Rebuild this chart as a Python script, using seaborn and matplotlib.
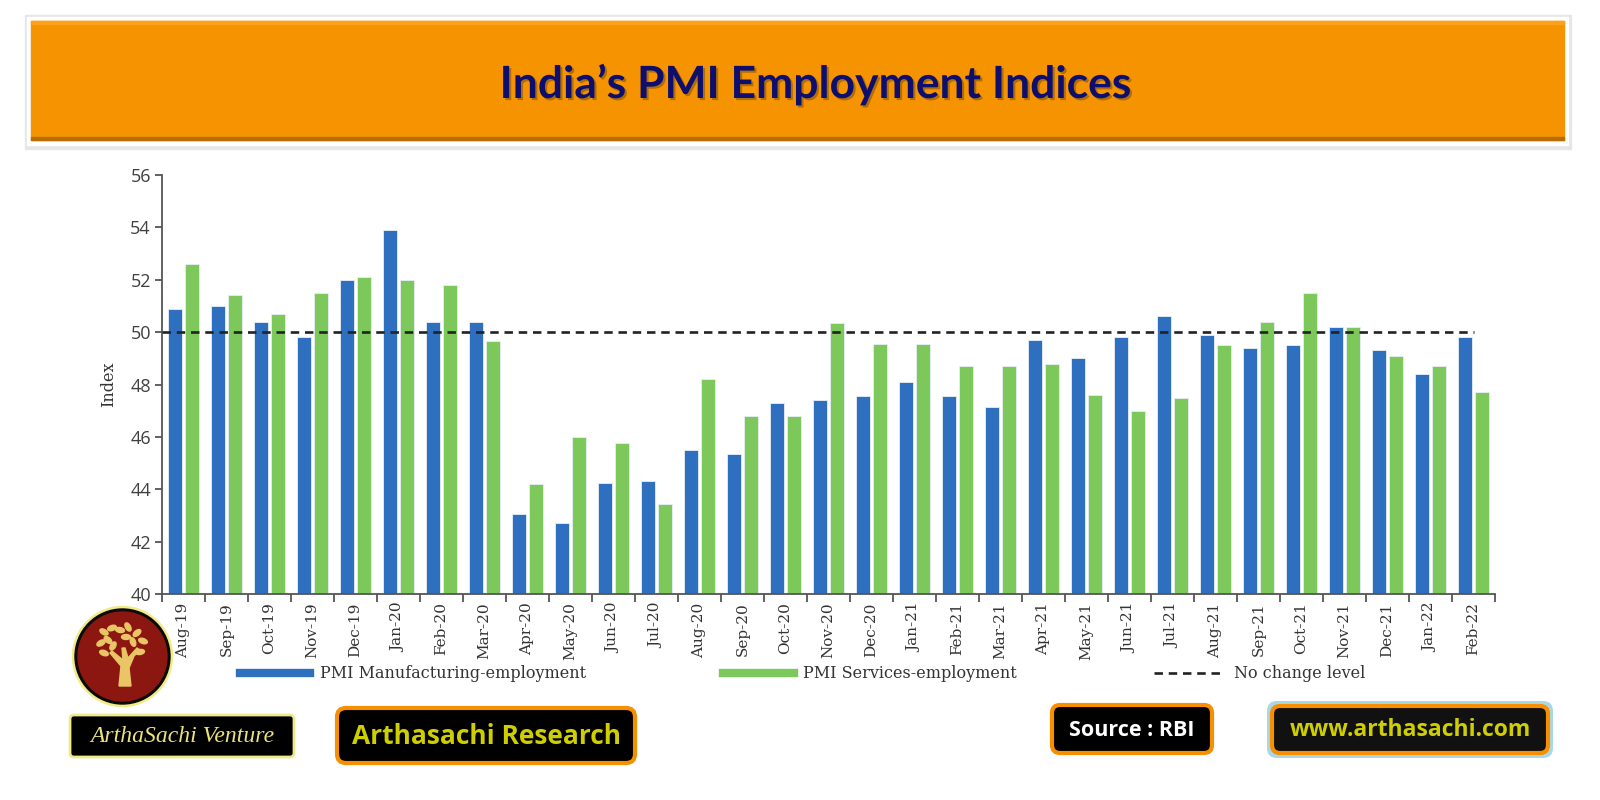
import numpy as np
import pandas as pd
import seaborn as sns
import matplotlib.pyplot as plt
import matplotlib.patheffects as pe
from matplotlib.patches import Rectangle, FancyBboxPatch, Ellipse, Circle, Polygon
from matplotlib.lines import Line2D
from matplotlib.ticker import FixedLocator

months = ["Aug-19", "Sep-19", "Oct-19", "Nov-19", "Dec-19", "Jan-20", "Feb-20", "Mar-20",
          "Apr-20", "May-20", "Jun-20", "Jul-20", "Aug-20", "Sep-20", "Oct-20", "Nov-20",
          "Dec-20", "Jan-21", "Feb-21", "Mar-21", "Apr-21", "May-21", "Jun-21", "Jul-21",
          "Aug-21", "Sep-21", "Oct-21", "Nov-21", "Dec-21", "Jan-22", "Feb-22"]
manufacturing = [50.9, 51.0, 50.4, 49.8, 52.0, 53.9, 50.4, 50.4,
                 43.05, 42.7, 44.25, 44.3, 45.5, 45.35, 47.3, 47.4,
                 47.55, 48.1, 47.55, 47.15, 49.7, 49.0, 49.8, 50.6,
                 49.9, 49.4, 49.5, 50.2, 49.3, 48.4, 49.8]
services = [52.6, 51.4, 50.7, 51.5, 52.1, 52.0, 51.8, 49.65,
            44.2, 46.0, 45.75, 43.45, 48.2, 46.8, 46.8, 50.35,
            49.55, 49.55, 48.7, 48.7, 48.8, 47.6, 47.0, 47.5,
            49.5, 50.4, 51.5, 50.2, 49.1, 48.7, 47.7]
no_change = 50
series_names = ["PMI Manufacturing-employment", "PMI Services-employment"]
line_name = "No change level"
y_ticks = [40, 42, 44, 46, 48, 50, 52, 54, 56]

BLUE = "#2E70BF"
GREEN = "#7DC85A"
ORANGE = "#F59300"
SERIF = "DejaVu Serif"

df = pd.DataFrame({
    "month": months * 2,
    "value": manufacturing + services,
    "series": [series_names[0]] * len(months) + [series_names[1]] * len(months),
})

W, H = 1600, 800
fig = plt.figure(figsize=(16, 8), dpi=100)

# overlay in pixel coordinates for the decorations
bg = fig.add_axes([0, 0, 1, 1])
bg.set_xlim(0, W)
bg.set_ylim(H, 0)
bg.axis("off")

# title banner
bg.add_patch(Rectangle((25, 15), 1546, 134, color="#e6e6e6", zorder=1))
bg.add_patch(Rectangle((27, 17), 1541, 128, color="white", zorder=2))
bg.add_patch(Rectangle((31, 21), 1533, 119, color=ORANGE, zorder=3))
bg.add_patch(Rectangle((31, 21), 1533, 3, color="#FBA21A", zorder=4))
bg.add_patch(Rectangle((31, 137), 1533, 3, color="#B96C00", zorder=4))
bg.text(816, 98, "India\u2019s PMI Employment Indices", ha="center", va="baseline",
        fontsize=32, fontweight="bold", family="Lato", color="#0E0E6E", zorder=5,
        path_effects=[pe.withSimplePatchShadow(offset=(1.5, -1.5), shadow_rgbFace="#6a4a10", alpha=0.5)])

# logo
bg.add_patch(Circle((122.5, 656.5), 50, color="#F1EC86", zorder=2))
bg.add_patch(Circle((122.5, 656.5), 47.5, color="#0a0a0a", zorder=3))
bg.add_patch(Circle((122.5, 656.5), 44.5, color="#8C1710", zorder=4))
gold = "#E9C566"
bg.add_patch(Polygon([(119, 686), (131, 686), (129, 668), (134, 656), (140, 650), (137, 648),
                      (128, 658), (125, 648), (122, 648), (123, 660), (112, 651), (110, 653),
                      (121, 666)], color=gold, zorder=5))
leaves = [(104, 632, 30), (112, 628, -20), (120, 630, 10), (128, 627, 60), (137, 633, -40),
          (143, 641, 20), (101, 643, -30), (108, 640, 40), (133, 642, 70), (140, 652, -10),
          (104, 653, 20), (113, 646, -60), (126, 637, 0)]
for lx, ly, ang in leaves:
    bg.add_patch(Ellipse((lx, ly), 9, 5, angle=ang, color=gold, zorder=5))

def box(x0, y0, x1, y1, face, edge, lw, rad, z=3):
    bg.add_patch(FancyBboxPatch((x0, y0), x1 - x0, y1 - y0,
                                boxstyle=f"round,pad=0,rounding_size={rad}",
                                fc=face, ec=edge, lw=lw, zorder=z))

box(70, 715, 294, 757, "black", "#EEEA8C", 2, 4)
bg.text(182, 737, "ArthaSachi Venture", ha="center", va="center", fontsize=17,
        style="italic", family="Liberation Serif", color="#ECE47A", zorder=6)

box(337, 708, 635, 763, "black", "#F78F00", 3, 9)
bg.text(486, 737, "Arthasachi Research", ha="center", va="center", fontsize=19,
        fontweight="bold", family="Open Sans", color="#CFCF00", zorder=6)

box(1052, 705, 1212, 753, "black", "#F78F00", 3, 8)
bg.text(1132, 730, "Source : RBI", ha="center", va="center", fontsize=15.5,
        fontweight="bold", family="Open Sans", color="white", zorder=6)

box(1267, 701, 1553, 758, "#A9D8E4", "none", 0, 10, z=2)
box(1272, 706, 1548, 753, "#111111", "#F78F00", 3, 8)
bg.text(1410, 730, "www.arthasachi.com", ha="center", va="center", fontsize=16.5,
        fontweight="bold", family="Open Sans", color="#CFCF00", zorder=6)

# chart
ax = fig.add_axes([162 / W, 1 - 594 / H, (1495 - 162) / W, (594 - 175) / H])
ax.patch.set_alpha(0)
sns.barplot(data=df, x="month", y="value", hue="series", palette=[BLUE, GREEN],
            saturation=1, width=0.8, gap=0.18, edgecolor="#e8eef6", linewidth=0.6,
            legend=False, ax=ax)
ax.hlines(no_change, -0.5, len(months) - 1, colors="#222222", linestyles=(0, (3.2, 2.2)),
          lw=1.9, zorder=5)

ax.set_xlim(-0.5, len(months) - 0.5)
ax.set_ylim(40, 56)
ax.set_yticks(y_ticks)
ax.xaxis.set_minor_locator(FixedLocator(np.arange(-0.5, len(months), 1.0)))
ax.tick_params(axis="x", which="major", length=0, pad=6, labelrotation=90)
ax.tick_params(axis="x", which="minor", length=6, width=1.3, color="#555555", direction="out")
ax.tick_params(axis="y", length=5, width=1.3, color="#555555", pad=3, labelsize=13,
               labelcolor="#404040")
for lab in ax.get_yticklabels():
    lab.set_family("Open Sans")
for lab in ax.get_xticklabels():
    lab.set_family(SERIF)
    lab.set_fontsize(11)
    lab.set_color("#333333")
for s in ["top", "right"]:
    ax.spines[s].set_visible(False)
for s in ["left", "bottom"]:
    ax.spines[s].set_color("#555555")
    ax.spines[s].set_linewidth(1.3)
ax.set_xlabel("")
ax.set_ylabel("Index", family=SERIF, fontsize=11.5, color="#333333")
ax.yaxis.set_label_coords(-0.034, 0.5)

handles = [Line2D([0], [0], color=BLUE, lw=6),
           Line2D([0], [0], color=GREEN, lw=6),
           Line2D([0], [0], color="#222222", lw=1.9, ls=(0, (3.2, 2.2)))]
fig.legend(handles, series_names + [line_name], loc="center left",
           bbox_to_anchor=(240 / W, 1 - 674 / H), ncol=3, frameon=False,
           prop={"family": SERIF, "size": 11.5}, labelcolor="#333333",
           handlelength=4.4, handletextpad=0.6, columnspacing=8.6,
           borderpad=0, borderaxespad=0)

fig.savefig("out.png", dpi=100)
